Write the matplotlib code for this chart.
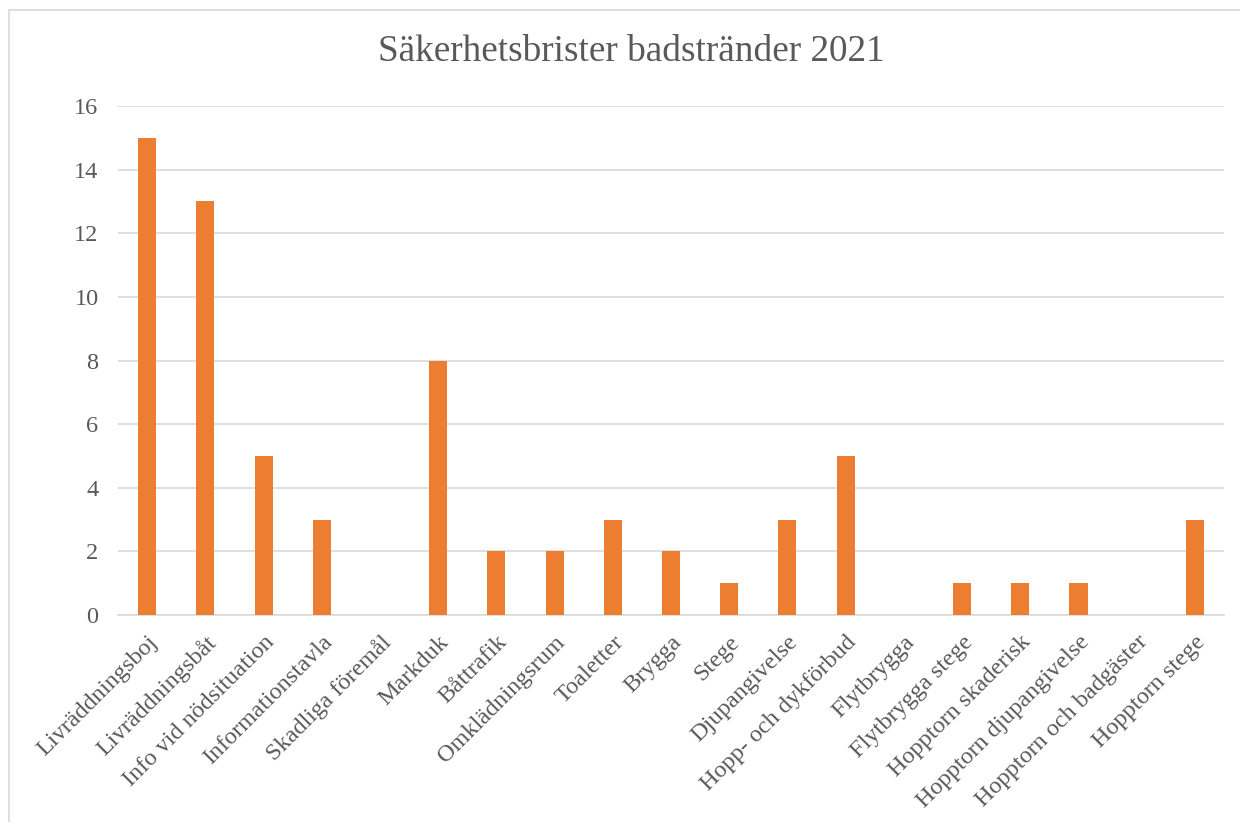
import matplotlib
matplotlib.use('Agg')
import matplotlib.pyplot as plt
from matplotlib.patches import Rectangle

# Data
categories = ['Livräddningsboj', 'Livräddningsbåt', 'Info vid nödsituation',
              'Informationstavla', 'Skadliga föremål', 'Markduk', 'Båttrafik',
              'Omklädningsrum', 'Toaletter', 'Brygga', 'Stege', 'Djupangivelse',
              'Hopp- och dykförbud', 'Flytbrygga', 'Flytbrygga stege',
              'Hopptorn skaderisk', 'Hopptorn djupangivelse',
              'Hopptorn och badgäster', 'Hopptorn stege']
values = [15, 13, 5, 3, 0, 8, 2, 2, 3, 2, 1, 3, 5, 0, 1, 1, 1, 0, 3]
yticks = [0, 2, 4, 6, 8, 10, 12, 14, 16]

plt.rcParams['font.family'] = ['Liberation Serif', 'DejaVu Serif']
text_color = '#595959'

fig = plt.figure(figsize=(12.4, 8.22), dpi=100)
fig.patches.append(Rectangle((9 / 1240, -0.1), 1.2, 1.1 - 10 / 822, transform=fig.transFigure,
                             fill=False, edgecolor='#D9D9D9', linewidth=1.2))
ax = fig.add_axes([0.0952, 0.2518, 0.8919, 0.6192])

x = range(len(categories))
ax.bar(x, values, width=0.31, color='#ED7D31', zorder=3)

ax.set_xlim(-0.5, len(categories) - 0.5)
ax.set_ylim(0, 16)
ax.set_yticks(yticks)
ax.yaxis.grid(True, color='#D9D9D9', linewidth=1.2, zorder=0)
for s in ['top', 'right', 'left']:
    ax.spines[s].set_visible(False)
ax.spines['bottom'].set_color('#D9D9D9')
ax.spines['bottom'].set_linewidth(1.2)
ax.tick_params(axis='both', length=0, colors=text_color, labelsize=17.5)
ax.tick_params(axis='y', pad=14)
ax.set_xticks(list(x))
ax.set_xticklabels(categories, rotation=45, ha='right', rotation_mode='anchor')
ax.tick_params(axis='x', pad=12)

fig.text(631 / 1240, 1 - 52 / 822, 'Säkerhetsbrister badstränder 2021', ha='center', va='center',
         fontsize=26.8, color=text_color)

fig.savefig('out.png', dpi=100)
